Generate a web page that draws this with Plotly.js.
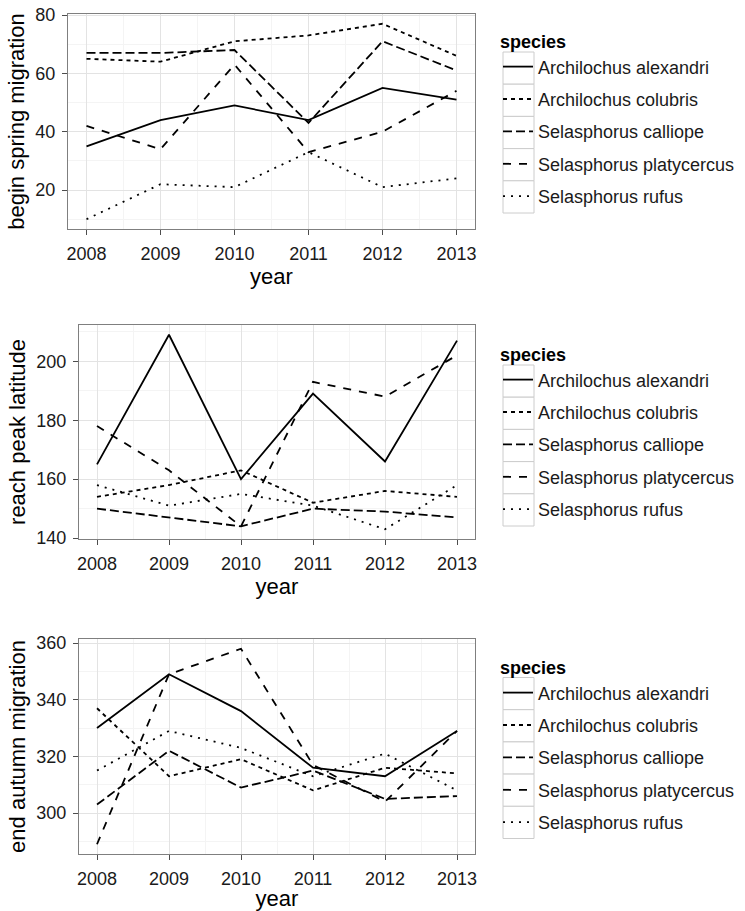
<!DOCTYPE html>
<html>
<head>
<meta charset="utf-8">
<script src="https://cdn.plot.ly/plotly-3.0.1.min.js"></script>
<style>
  html, body { margin: 0; padding: 0; background: #ffffff; }
  #chart { width: 745px; height: 911px; }
</style>
</head>
<body>
<div id="chart"></div>
<script>
// ---------- data ----------
const years = [2008, 2009, 2010, 2011, 2012, 2013];
const species = ["Archilochus alexandri", "Archilochus colubris", "Selasphorus calliope", "Selasphorus platycercus", "Selasphorus rufus"];
const panelTitles = ["begin spring migration", "reach peak latitude", "end autumn migration"];
const xTitle = "year";
const legendTitle = "species";

const springAlexandri   = [35, 44, 49, 44, 55, 51];
const springColubris    = [65, 64, 71, 73, 77, 66];
const springCalliope    = [67, 67, 68, 43, 71, 61];
const springPlatycercus = [42, 34, 63, 33, 40, 54];
const springRufus       = [10, 22, 21, 33, 21, 24];

const peakAlexandri   = [165, 209, 160, 189, 166, 207];
const peakColubris    = [154, 158, 163, 152, 156, 154];
const peakCalliope    = [150, 147, 144, 150, 149, 147];
const peakPlatycercus = [178, 163, 144, 193, 188, 202];
const peakRufus       = [158, 151, 155, 151, 143, 158];

const autumnAlexandri   = [330, 349, 336, 316, 313, 329];
const autumnColubris    = [337, 313, 319, 308, 316, 314];
const autumnCalliope    = [303, 322, 309, 315, 305, 306];
const autumnPlatycercus = [289, 349, 358, 317, 304, 329];
const autumnRufus       = [315, 329, 323, 313, 321, 308];

const panels = [
  [springAlexandri, springColubris, springCalliope, springPlatycercus, springRufus],
  [peakAlexandri, peakColubris, peakCalliope, peakPlatycercus, peakRufus],
  [autumnAlexandri, autumnColubris, autumnCalliope, autumnPlatycercus, autumnRufus]
];

// ---------- styles ----------
const W = 745, H = 911;
const FONT = "Liberation Sans, Arial, Helvetica, sans-serif";
const dashes = ["solid", "4px,4px", "9px,4px", "8px,8px", "2px,6px"];
const xDom = [[68, 475], [79, 475], [79, 475]];
const yDom = [[14, 229], [325, 539], [639, 854]];
const legendTop = [25, 338, 651];
const keyBoxTop = [52, 365, 677.5];
const keyBoxH = 32.2;
const keyBoxX = [503, 534];

function fx(p) { return p / W; }
function fy(p) { return 1 - p / H; }

const traces = [];
const layout = {
  width: W, height: H,
  margin: { l: 0, r: 0, t: 0, b: 0 },
  paper_bgcolor: "#ffffff",
  plot_bgcolor: "#ffffff",
  font: { family: FONT, color: "#1a1a1a" },
  showlegend: true,
  shapes: []
};

panels.forEach((series, p) => {
  const sfx = p === 0 ? "" : String(p + 1);
  const legendId = "legend" + sfx;
  series.forEach((vals, i) => {
    traces.push({
      type: "scatter", mode: "lines",
      x: years, y: vals,
      name: species[i],
      xaxis: "x" + sfx, yaxis: "y" + sfx,
      legend: legendId,
      legendgroup: "g" + p + "_" + i,
      line: { color: "#000000", width: 1.8, dash: dashes[i] },
      hoverinfo: "x+y+name"
    });
    // legend key frame (decoration)
    layout.shapes.push({
      type: "rect", xref: "paper", yref: "paper", layer: "below",
      x0: fx(keyBoxX[0]), x1: fx(keyBoxX[1]),
      y0: fy(keyBoxTop[p] + keyBoxH * (i + 1)), y1: fy(keyBoxTop[p] + keyBoxH * i),
      line: { color: "#cccccc", width: 1 }, fillcolor: "#ffffff"
    });
  });
  const all = [].concat(...series);
  const mn = Math.min(...all), mx = Math.max(...all);
  const pad = (mx - mn) * 0.05;

  const common = {
    showline: true, mirror: true, linecolor: "#7f7f7f", linewidth: 1,
    showgrid: true, gridcolor: "#e3e3e3", gridwidth: 1,
    zeroline: false,
    ticks: "outside", ticklen: 5, tickcolor: "#4d4d4d", tickwidth: 1,
    ticklabelstandoff: 3,
    tickfont: { family: FONT, size: 18, color: "#1a1a1a" }
  };
  layout["xaxis" + sfx] = Object.assign({}, common, {
    domain: [fx(xDom[p][0]), fx(xDom[p][1])],
    anchor: "y" + sfx,
    range: [years[0] - 0.25, years[years.length - 1] + 0.25],
    tick0: years[0], dtick: 1,
    minor: { dtick: 0.5, tick0: years[0], showgrid: true, gridcolor: "#f4f4f4", ticks: "" },
    title: { text: xTitle, font: { family: FONT, size: 22, color: "#000000" }, standoff: 0 }
  });
  layout["yaxis" + sfx] = Object.assign({}, common, {
    domain: [fy(yDom[p][1]), fy(yDom[p][0])],
    anchor: "x" + sfx,
    range: [mn - pad, mx + pad],
    dtick: 20,
    minor: { dtick: 10, showgrid: true, gridcolor: "#f4f4f4", ticks: "" },
    title: { text: panelTitles[p], font: { family: FONT, size: 22, color: "#000000" }, standoff: 4 }
  });
  layout[legendId] = {
    x: fx(498), xanchor: "left",
    y: fy(legendTop[p]), yanchor: "top",
    bgcolor: "rgba(0,0,0,0)", borderwidth: 0,
    font: { family: FONT, size: 18, color: "#1a1a1a" },
    title: { text: "<b>" + legendTitle + "</b>", font: { family: FONT, size: 18, color: "#000000" } },
    traceorder: "grouped", tracegroupgap: 6,
    itemwidth: 30
  };
});

Plotly.newPlot("chart", traces, layout, { displayModeBar: false, staticPlot: true });
</script>
</body>
</html>
